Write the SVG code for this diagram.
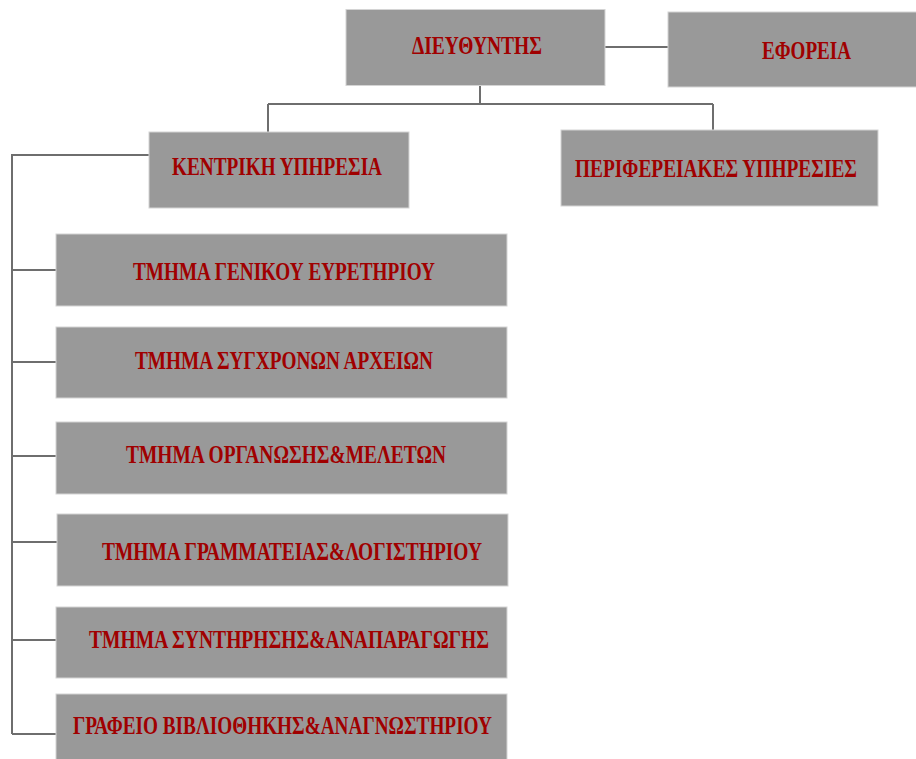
<svg xmlns="http://www.w3.org/2000/svg" width="916" height="759" viewBox="0 0 916 759">
<style>
.box{fill:#999999;stroke:#d4d4d4;stroke-width:1}
.lbl{font-family:"Liberation Serif","Times New Roman",serif;font-weight:bold;font-size:25px;fill:#a00000}
.conn{fill:none;stroke:#6e6e6e;stroke-width:2}
</style>
<rect width="916" height="759" fill="#ffffff"/>
<g id="connectors">
<path class="conn" d="M605 47 H668"/>
<path class="conn" d="M480 85 V104 M268 104 H713 M268 104 V132 M713 104 V130"/>
<path class="conn" d="M149 155 H12 V734"/>
<path class="conn" d="M12 270 H56 M12 362 H56 M12 456 H56 M12 542 H57 M12 640 H56 M12 734 H56"/>
</g>
<g id="n-dieythyntis">
<rect class="box" x="346" y="9.5" width="259" height="76"/>
<text class="lbl" x="412" y="54" textLength="130" lengthAdjust="spacingAndGlyphs">ΔΙΕΥΘΥΝΤΗΣ</text>
</g>
<g id="n-eforeia">
<rect class="box" x="668" y="12" width="250" height="75"/>
<text class="lbl" x="762" y="59" textLength="89" lengthAdjust="spacingAndGlyphs">ΕΦΟΡΕΙΑ</text>
</g>
<g id="n-kentriki">
<rect class="box" x="149" y="132" width="260" height="76"/>
<text class="lbl" x="172" y="175" textLength="210" lengthAdjust="spacingAndGlyphs">ΚΕΝΤΡΙΚΗ ΥΠΗΡΕΣΙΑ</text>
</g>
<g id="n-perifereiakes">
<rect class="box" x="561" y="130" width="317" height="76"/>
<text class="lbl" x="575" y="177" textLength="282" lengthAdjust="spacingAndGlyphs">ΠΕΡΙΦΕΡΕΙΑΚΕΣ ΥΠΗΡΕΣΙΕΣ</text>
</g>
<g id="n-geniko">
<rect class="box" x="56" y="234" width="451" height="72"/>
<text class="lbl" x="133" y="280" textLength="302" lengthAdjust="spacingAndGlyphs">ΤΜΗΜΑ ΓΕΝΙΚΟΥ ΕΥΡΕΤΗΡΙΟΥ</text>
</g>
<g id="n-sygxrona">
<rect class="box" x="56" y="327" width="451" height="71"/>
<text class="lbl" x="135" y="369" textLength="298" lengthAdjust="spacingAndGlyphs">ΤΜΗΜΑ ΣΥΓΧΡΟΝΩΝ ΑΡΧΕΙΩΝ</text>
</g>
<g id="n-organosi">
<rect class="box" x="56" y="422" width="451" height="72"/>
<text class="lbl" x="126" y="463" textLength="320" lengthAdjust="spacingAndGlyphs">ΤΜΗΜΑ ΟΡΓΑΝΩΣΗΣ&amp;ΜΕΛΕΤΩΝ</text>
</g>
<g id="n-grammateia">
<rect class="box" x="57" y="514" width="451" height="72"/>
<text class="lbl" x="102" y="560" textLength="380" lengthAdjust="spacingAndGlyphs">ΤΜΗΜΑ ΓΡΑΜΜΑΤΕΙΑΣ&amp;ΛΟΓΙΣΤΗΡΙΟΥ</text>
</g>
<g id="n-syntirisi">
<rect class="box" x="56" y="607" width="451" height="71"/>
<text class="lbl" x="89" y="648" textLength="400" lengthAdjust="spacingAndGlyphs">ΤΜΗΜΑ ΣΥΝΤΗΡΗΣΗΣ&amp;ΑΝΑΠΑΡΑΓΩΓΗΣ</text>
</g>
<g id="n-grafeio">
<rect class="box" x="56" y="694" width="451" height="70"/>
<text class="lbl" x="73" y="734" textLength="419" lengthAdjust="spacingAndGlyphs">ΓΡΑΦΕΙΟ ΒΙΒΛΙΟΘΗΚΗΣ&amp;ΑΝΑΓΝΩΣΤΗΡΙΟΥ</text>
</g>
</svg>
